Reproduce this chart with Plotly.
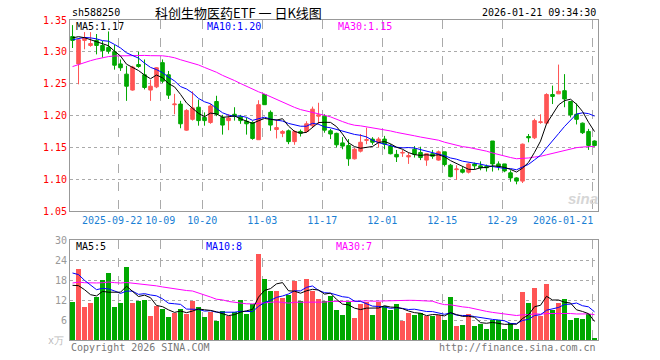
import numpy as np
import plotly.graph_objects as go

# ---------------- data ----------------
open_ = [1.324, 1.281, 1.318, 1.310, 1.318, 1.310, 1.307, 1.300, 1.281, 1.265,
         1.240, 1.280, 1.264, 1.240, 1.245, 1.283, 1.264, 1.217, 1.218, 1.177,
         1.194, 1.213, 1.197, 1.189, 1.222, 1.197, 1.192, 1.202, 1.198, 1.191,
         1.189, 1.162, 1.233, 1.205, 1.178, 1.172, 1.176, 1.159, 1.175, 1.175,
         1.184, 1.199, 1.199, 1.176, 1.172, 1.157, 1.153, 1.132, 1.144, 1.161,
         1.163, 1.158, 1.163, 1.152, 1.139, 1.141, 1.135, 1.147, 1.142, 1.130,
         1.140, 1.130, 1.143, 1.122, 1.115, 1.115, 1.111, 1.124, 1.121, 1.120,
         1.160, 1.124, 1.124, 1.110, 1.102, 1.097, 1.167, 1.165, 1.189, 1.188,
         1.233, 1.234, 1.239, 1.222, 1.202, 1.188, 1.175, 1.160]
high = [1.342, 1.320, 1.331, 1.331, 1.328, 1.317, 1.332, 1.311, 1.288, 1.278,
        1.278, 1.300, 1.288, 1.256, 1.276, 1.288, 1.270, 1.234, 1.223, 1.210,
        1.238, 1.225, 1.205, 1.218, 1.231, 1.201, 1.202, 1.213, 1.201, 1.197,
        1.191, 1.224, 1.234, 1.208, 1.194, 1.177, 1.178, 1.177, 1.178, 1.191,
        1.214, 1.220, 1.202, 1.179, 1.173, 1.166, 1.163, 1.149, 1.171, 1.181,
        1.166, 1.166, 1.168, 1.155, 1.146, 1.146, 1.142, 1.152, 1.151, 1.140,
        1.146, 1.145, 1.143, 1.124, 1.122, 1.119, 1.125, 1.126, 1.128, 1.123,
        1.160, 1.128, 1.124, 1.114, 1.103, 1.156, 1.171, 1.195, 1.202, 1.235,
        1.247, 1.280, 1.265, 1.223, 1.219, 1.189, 1.179, 1.161]
low = [1.306, 1.249, 1.304, 1.308, 1.296, 1.291, 1.297, 1.272, 1.270, 1.223,
       1.239, 1.275, 1.241, 1.223, 1.243, 1.251, 1.226, 1.202, 1.180, 1.176,
       1.192, 1.184, 1.184, 1.187, 1.199, 1.170, 1.177, 1.192, 1.187, 1.170,
       1.162, 1.162, 1.217, 1.176, 1.164, 1.166, 1.155, 1.154, 1.167, 1.173,
       1.182, 1.186, 1.173, 1.163, 1.150, 1.147, 1.121, 1.131, 1.142, 1.155,
       1.154, 1.150, 1.147, 1.139, 1.127, 1.135, 1.124, 1.134, 1.130, 1.121,
       1.132, 1.129, 1.120, 1.103, 1.099, 1.109, 1.109, 1.115, 1.114, 1.112,
       1.112, 1.114, 1.111, 1.096, 1.092, 1.094, 1.158, 1.163, 1.187, 1.187,
       1.218, 1.234, 1.213, 1.197, 1.186, 1.171, 1.146, 1.151]
close = [1.318, 1.319, 1.322, 1.313, 1.310, 1.302, 1.301, 1.279, 1.275, 1.246,
         1.276, 1.277, 1.244, 1.246, 1.275, 1.254, 1.232, 1.218, 1.187, 1.208,
         1.212, 1.192, 1.192, 1.215, 1.202, 1.185, 1.196, 1.199, 1.192, 1.187,
         1.164, 1.217, 1.217, 1.185, 1.181, 1.175, 1.159, 1.175, 1.172, 1.187,
         1.210, 1.201, 1.177, 1.171, 1.154, 1.152, 1.132, 1.147, 1.158, 1.162,
         1.158, 1.163, 1.155, 1.140, 1.135, 1.142, 1.137, 1.139, 1.134, 1.140,
         1.136, 1.143, 1.123, 1.104, 1.116, 1.111, 1.124, 1.121, 1.118, 1.118,
         1.124, 1.120, 1.113, 1.102, 1.097, 1.155, 1.165, 1.192, 1.190, 1.233,
         1.230, 1.238, 1.226, 1.201, 1.194, 1.173, 1.153, 1.153]
volume = [11.3, 21.2, 9.8, 11.0, 12.8, 18.1, 20.0, 9.8, 11.0, 21.8,
          11.0, 11.6, 11.9, 7.1, 10.2, 9.2, 6.8, 8.1, 9.2, 7.7,
          11.6, 10.0, 6.8, 8.3, 5.6, 8.6, 7.3, 8.3, 11.9, 7.7,
          10.7, 25.7, 18.4, 14.6, 14.8, 12.6, 13.4, 17.8, 11.6, 18.4,
          14.8, 12.4, 11.6, 13.1, 9.1, 7.6, 11.3, 6.7, 10.9, 11.3,
          7.6, 11.5, 10.1, 8.9, 10.9, 5.6, 8.0, 7.6, 8.0, 7.3,
          7.3, 7.6, 5.9, 13.0, 4.3, 4.6, 7.9, 4.3, 4.9, 3.4,
          5.9, 5.9, 3.4, 5.1, 3.4, 14.5, 11.2, 15.7, 7.3, 16.9,
          8.9, 11.2, 12.4, 6.1, 6.7, 6.4, 7.9, 0.7]
# sessions before the visible window (estimated from where the MA lines start)
prior_close = [1.220, 1.225, 1.230, 1.235, 1.240, 1.245, 1.250, 1.265,
               1.255, 1.260, 1.250, 1.262, 1.258, 1.265, 1.270,
               1.268, 1.275, 1.280, 1.282, 1.280,
               1.295, 1.310, 1.320, 1.325, 1.330,
               1.310, 1.330, 1.330, 1.322]
prior_volume = [13, 15, 14, 12, 16, 14, 15, 14.6,
                17, 16, 18, 15, 16, 17, 19, 16, 15, 17, 16, 16,
                26, 27, 26, 25.8, 14.2,
                21.7, 15.8, 18.5, 14.7]
tick_index = [8, 15, 22, 32, 42, 52, 62, 72, 87]
tick_labels = ["2025-09-22", "10-09", "10-20", "11-03", "11-17",
               "12-01", "12-15", "12-29", "2026-01-21"]
price_ticks = [1.05, 1.10, 1.15, 1.20, 1.25, 1.30, 1.35]
vol_ticks = [6, 12, 18, 24, 30]

# ---------------- derived ----------------
n = len(close)
xs = list(range(n))


def moving_avg(prior, series, w):
    arr = np.array(prior + series, dtype=float)
    off = len(prior)
    return [float(arr[off + i - w + 1: off + i + 1].mean()) for i in range(len(series))]


ma5 = moving_avg(prior_close, close, 5)
ma10 = moving_avg(prior_close, close, 10)
ma30 = moving_avg(prior_close, close, 30)
vma5 = moving_avg(prior_volume, volume, 5)
vma10 = moving_avg(prior_volume, volume, 10)
vma30 = moving_avg(prior_volume, volume, 30)

RED = "#ff5555"
GREEN = "#00a800"
vol_colors = [RED if c >= o else GREEN for o, c in zip(open_, close)]

MONO = "DejaVu Sans Mono"
CJK = "Noto Sans CJK SC"
XLAB = "#1a7fd4"

fig = go.Figure()
fig.add_trace(go.Candlestick(
    x=xs, open=open_, high=high, low=low, close=close,
    increasing=dict(line=dict(color=RED, width=1), fillcolor=RED),
    decreasing=dict(line=dict(color=GREEN, width=1), fillcolor=GREEN),
    whiskerwidth=0, xaxis="x", yaxis="y", showlegend=False, hoverinfo="skip"))
for vals, col in [(ma30, "#ff00ff"), (ma10, "#0000ff"), (ma5, "#000000")]:
    fig.add_trace(go.Scatter(x=xs, y=vals, mode="lines", line=dict(color=col, width=1),
                             xaxis="x", yaxis="y", showlegend=False, hoverinfo="skip"))

fig.add_trace(go.Bar(x=xs, y=volume, marker=dict(color=vol_colors, line=dict(width=0)),
                     width=0.82, xaxis="x2", yaxis="y2", showlegend=False, hoverinfo="skip"))
for vals, col in [(vma30, "#ff00ff"), (vma10, "#0000ff"), (vma5, "#000000")]:
    fig.add_trace(go.Scatter(x=xs, y=vals, mode="lines", line=dict(color=col, width=1),
                             xaxis="x2", yaxis="y2", showlegend=False, hoverinfo="skip"))

grid_x = [t - 0.37 for t in tick_index]
xrange = [-0.42, n - 0.42]
common_x = dict(range=xrange, showline=True, mirror=True, linecolor="#999999", linewidth=1,
                showgrid=True, gridcolor="#aaaaaa", griddash="dash", gridwidth=1,
                zeroline=False, tickvals=grid_x, ticks="", fixedrange=True,
                automargin=False, tickangle=0)

# first and last date labels are placed as annotations (edge-aligned like the reference)
inner_text = [""] + tick_labels[1:-1] + [""]

fig.update_layout(
    width=660, height=360,
    margin=dict(l=70, r=62, t=20, b=20),
    paper_bgcolor="white", plot_bgcolor="white",
    boxgap=0.4, boxgroupgap=0,
    bargap=0,
    xaxis=dict(**common_x, anchor="y", ticktext=inner_text,
               tickfont=dict(family=MONO, size=10, color=XLAB),
               rangeslider=dict(visible=False)),
    yaxis=dict(domain=[0.403, 1.0], range=[1.05, 1.35], anchor="x", automargin=False,
               fixedrange=True,
               showline=True, mirror=True, linecolor="#999999", linewidth=1,
               showgrid=True, gridcolor="#aaaaaa", griddash="dot", zeroline=False,
               tickvals=price_ticks, ticktext=[f"{v:.2f}" for v in price_ticks],
               tickfont=dict(family=MONO, size=10, color="#ff0000"), ticks=""),
    xaxis2=dict(**common_x, anchor="y2", showticklabels=False),
    yaxis2=dict(domain=[0.0, 0.3125], range=[0, 30], anchor="x2", automargin=False,
                fixedrange=True,
                showline=True, mirror=True, linecolor="#999999", linewidth=1,
                showgrid=True, gridcolor="#aaaaaa", griddash="dot", zeroline=False,
                tickvals=vol_ticks, ticktext=[str(v) for v in vol_ticks],
                tickfont=dict(family=MONO, size=10, color="#999999"), ticks=""),
)


def px_x(p):
    return (p - 70) / 528.0


def px_y(p):
    return (340 - p) / 320.0


ann = []


def add_text(text, x, y, color, size=10, family=MONO, xanchor="left", **kw):
    ann.append(dict(text=text, x=px_x(x), y=px_y(y), xref="paper", yref="paper",
                    xanchor=xanchor, yanchor="middle", showarrow=False,
                    font=dict(family=family, size=size, color=color), **kw))


add_text("sh588250", 70, 13, "#000000")
add_text("科创生物医药ETF 一 日K线图", 238, 13, "#000000", size=13, family=CJK, xanchor="center")
add_text("2026-01-21 09:34:30", 598, 13, "#000000", xanchor="right")
add_text(f"MA5:{ma5[-1]:.2f}", 74, 27, "#000000")
add_text(f"MA10:{ma10[-1]:.2f}", 205, 27, "#0000ff")
add_text(f"MA30:{ma30[-1]:.2f}", 336, 27, "#ff00ff")
add_text(f"MA5:{int(vma5[-1])}", 74, 246, "#000000")
add_text(f"MA10:{int(vma10[-1])}", 204, 246, "#0000ff")
add_text(f"MA30:{int(vma30[-1])}", 334, 246, "#ff00ff")
add_text(tick_labels[0], 144, 220, XLAB, xanchor="right")
add_text(tick_labels[-1], 595, 220, XLAB, xanchor="right")
add_text("x万", 66, 340, "#bbbbbb", xanchor="right")
add_text("Copyright 2026 SINA.COM", 69, 347, "#777777")
add_text("http://finance.sina.com.cn", 598, 347, "#777777", xanchor="right")
ann.append(dict(text="<b><i>sina</i></b>", x=px_x(583), y=px_y(198), xref="paper", yref="paper",
                xanchor="center", yanchor="middle", showarrow=False,
                font=dict(family="Liberation Sans", size=15, color="#d6d6d6")))
fig.update_layout(annotations=ann)

fig.write_html("out.html", config={"displayModeBar": False, "staticPlot": True},
               post_script="document.body.style.margin='0';")
